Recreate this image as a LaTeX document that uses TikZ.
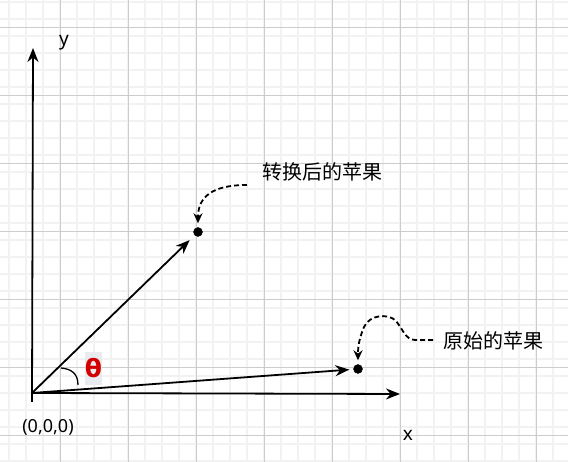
\documentclass[tikz,border=0pt]{standalone}
\usepackage{fontspec}
\setmainfont{Noto Sans}
\newfontfamily\cjkfont{Noto Sans CJK SC}
\newfontfamily\symfont{DejaVu Sans}
\usetikzlibrary{arrows.meta}
\definecolor{thetared}{HTML}{D40000}
\definecolor{thetabg}{HTML}{E8EBF0}

\tikzset{
MinorGrid/.style={draw=black!5, line width=1.1pt},
MajorGrid/.style={draw=black!20, line width=0.8pt},
Axis/.style={arrows={-Stealth[length=14pt,width=11pt]}, draw=black, line width=1.8pt},
Vector/.style={arrows={-Stealth[length=14pt,width=11pt]}, draw=black, line width=1.8pt},
Apple/.style={draw=black, fill=black, circle, inner sep=0pt, minimum size=9pt},
Hint/.style={arrows={-Stealth[length=10pt,width=9pt]}, draw=black, line width=1.8pt, dash pattern=on 5pt off 3pt},
AppleLabel/.style={font=\cjkfont\fontsize{20}{24}\selectfont, inner sep=0pt},
AxisLabel/.style={font=\fontsize{19}{22}\selectfont, inner sep=0pt},
ThetaBox/.style={fill=thetabg, minimum width=17pt, minimum height=33pt, inner sep=0pt,
        text=thetared, font=\symfont\bfseries\fontsize{25}{27}\selectfont},
}

\begin{document}
\begin{tikzpicture}[x=1pt,y=1pt]
	\useasboundingbox (0,0) rectangle (568,462);
	\clip (0,0) rectangle (568,462);
	\fill[white] (0,0) rectangle (568,462);
	\foreach \gx in {9,26,...,568}
		\draw[MinorGrid] (\gx,0) -- (\gx,462);
	\foreach \gy in {1,18,...,462}
		\draw[MinorGrid] (0,\gy) -- (568,\gy);
	\foreach \gx in {60,128,...,568}
		\draw[MajorGrid] (\gx,0) -- (\gx,462);
	\foreach \gy in {27,95,...,462}
		\draw[MajorGrid] (0,\gy) -- (568,\gy);

	\coordinate (O) at (32,69);
	\coordinate (Ybottom) at (32,60);
	\coordinate (Ytip) at (33,414);
	\coordinate (Xtip) at (400,68);
	\draw[Axis] (Ybottom) -- (Ytip);
	\draw[Axis] (O) -- (Xtip);

	\node[AxisLabel] (ylabel) at (64,419) {y};
	\node[AxisLabel] (xlabel) at (408,27) {x};
	\node[AxisLabel,font=\fontsize{18}{20}\selectfont] (olabel) at (48,35) {(0,0,0)};

	\node[Apple] (newapple) at (198,230) {};
	\node[Apple] (oldapple) at (358,93) {};
	\draw[Vector, shorten >=7pt] (O) -- (newapple);
	\draw[Vector, shorten >=4pt] (O) -- (oldapple);

	\draw[line width=1.3pt] (61,94) .. controls (72,93) and (78,88) .. (78,77);
	\node[ThetaBox] (theta) at (93.5,93.5) {θ};

	\node[AppleLabel] (newlabel) at (322,290) {转换后的苹果};
	\node[AppleLabel] (oldlabel) at (493,121) {原始的苹果};

	\coordinate (newtail) at (247,277);
	\coordinate (oldtail) at (433,122);
	\draw[Hint, shorten >=4pt] (newtail) .. controls (212,277) and (198,265) .. (newapple);
	\draw[Hint, shorten >=4pt] (oldtail) -- (415,122) .. controls (405,122) and (402,135) .. (395,142)
		.. controls (388,148) and (370,148) .. (364,135) .. controls (360,125) and (358,118) .. (oldapple);
\end{tikzpicture}
\end{document}
